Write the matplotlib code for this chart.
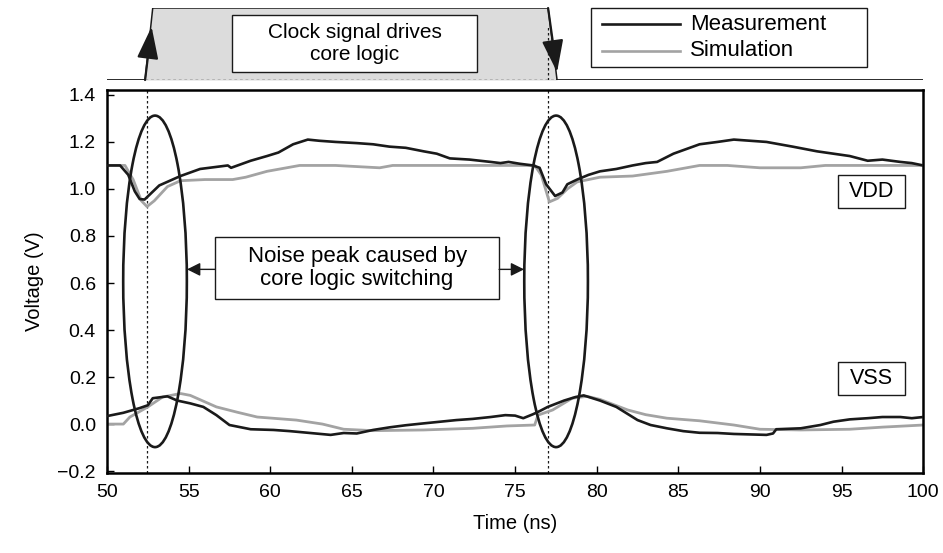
import matplotlib
matplotlib.use("Agg")
import matplotlib.pyplot as plt
from matplotlib.patches import Ellipse, Rectangle
from matplotlib.lines import Line2D

plt.rcParams['font.family'] = ['Liberation Sans', 'DejaVu Sans']

# VDD rail, measurement (black) and simulation (gray)
vdd_meas_t = [50, 50.8, 51.3, 51.7, 52.0, 52.3, 52.6, 53.2, 54.5, 55.7, 57.4, 57.6, 58.8, 59.8,
              60.5, 61.4, 62.3, 63.0, 64.0, 65.3, 66.3, 67.3, 68.3, 69.4, 70.2, 71.0, 72.2,
              73.5, 74.1, 74.6, 75.3, 76.1, 76.5, 76.9, 77.45, 77.9, 78.2, 78.8, 79.5, 80.2,
              81.2, 82.2, 83.0, 83.7, 84.7, 85.5, 86.3, 87.4, 88.4, 89.4, 90.4, 91.2, 92.0,
              93.5, 94.5, 95.5, 96.6, 97.5, 98.6, 99.3, 100]
vdd_meas_v = [1.10, 1.10, 1.06, 0.99, 0.957, 0.955, 0.975, 1.015, 1.055, 1.085, 1.10, 1.09, 1.12,
              1.14, 1.155, 1.19, 1.21, 1.205, 1.20, 1.195, 1.19, 1.18, 1.175, 1.16, 1.15, 1.13,
              1.125, 1.115, 1.11, 1.115, 1.107, 1.10, 1.09, 1.02, 0.97, 0.985, 1.02, 1.04,
              1.06, 1.075, 1.085, 1.10, 1.11, 1.115, 1.15, 1.17, 1.19, 1.20, 1.21, 1.205,
              1.20, 1.19, 1.18, 1.16, 1.15, 1.14, 1.12, 1.125, 1.115, 1.11, 1.10]
vdd_sim_t = [50, 51.1, 51.6, 52.1, 52.45, 52.9, 53.7, 54.5, 56.0, 57.7, 58.5, 59.8, 61.0, 61.8,
             62.5, 64.0, 66.7, 67.5, 70.0, 73.0, 76.2, 76.6, 77.1, 77.6, 78.2, 78.8, 80.2,
             82.2, 84.3, 85.5, 86.3, 88.0, 90.0, 92.5, 94.0, 96.0, 100]
vdd_sim_v = [1.10, 1.10, 1.04, 0.95, 0.925, 0.95, 1.01, 1.035, 1.04, 1.04, 1.05, 1.075, 1.09,
             1.10, 1.10, 1.10, 1.09, 1.10, 1.10, 1.10, 1.10, 1.06, 0.945, 0.96, 1.00, 1.03,
             1.05, 1.055, 1.075, 1.09, 1.10, 1.10, 1.09, 1.09, 1.10, 1.10, 1.10]

# VSS rail
vss_meas_t = [50, 51.0, 52.0, 52.5, 52.8, 53.7, 54.3, 55.1, 55.9, 56.7, 57.5, 58.8, 60.2, 61.2,
              62.3, 63.7, 64.5, 65.3, 66.3, 67.3, 68.3, 69.4, 70.4, 71.4, 72.4, 73.5, 74.4,
              75.0, 75.5, 76.1, 76.5, 77.0, 78.0, 78.7, 79.2, 80.2, 81.2, 82.5, 83.3, 84.3,
              85.3, 86.3, 87.4, 88.4, 89.4, 90.4, 90.8, 91.0, 92.5, 93.7, 94.5, 95.5, 96.6,
              97.5, 98.6, 99.3, 100]
vss_meas_v = [0.034, 0.048, 0.068, 0.08, 0.11, 0.118, 0.10, 0.088, 0.073, 0.038, -0.004, -0.022,
              -0.025, -0.03, -0.037, -0.046, -0.038, -0.04, -0.025, -0.014, -0.005, 0.003,
              0.01, 0.017, 0.022, 0.03, 0.038, 0.036, 0.025, 0.042, 0.055, 0.073, 0.10, 0.115,
              0.122, 0.10, 0.073, 0.017, -0.004, -0.018, -0.03, -0.037, -0.038, -0.042,
              -0.044, -0.046, -0.04, -0.022, -0.018, -0.004, 0.01, 0.02, 0.025, 0.03, 0.03,
              0.025, 0.03]
vss_sim_t = [50, 51.0, 51.4, 52.5, 53.4, 54.5, 55.1, 56.7, 58.0, 59.2, 61.6, 63.2, 64.5, 66.3,
             69.4, 72.4, 74.5, 76.2, 76.4, 77.3, 78.5, 79.4, 80.2, 81.9, 83.0, 84.3, 86.3,
             88.4, 90.0, 92.5, 95.5, 97.5, 100]
vss_sim_v = [0.0, 0.0, 0.03, 0.073, 0.115, 0.13, 0.122, 0.073, 0.05, 0.03, 0.017, 0.0, -0.022,
             -0.028, -0.025, -0.018, -0.008, -0.004, 0.038, 0.06, 0.11, 0.118, 0.105, 0.06,
             0.04, 0.025, 0.014, -0.004, -0.022, -0.025, -0.022, -0.013, -0.004]

# clock pulse (0 = low, 1 = high)
clock_t = [50, 52.33, 52.8, 77.02, 77.57, 100]
clock_v = [0, 0, 1, 1, 0, 0]
edges = [52.45, 77.0]
ellipse_x = [52.94, 77.51]

x_ticks = [50, 55, 60, 65, 70, 75, 80, 85, 90, 95, 100]
y_ticks = [-0.2, 0.0, 0.2, 0.4, 0.6, 0.8, 1.0, 1.2, 1.4]
y_labels = ['\u22120.2', '0.0', '0.2', '0.4', '0.6', '0.8', '1.0', '1.2', '1.4']

BLACK = '#1a1a1a'
GRAY = '#a3a3a3'
FS = 14
W, H = 943, 553


def fpx(x, y):
    # pixel position (from top-left) -> figure fraction
    return x / W, 1 - y / H


fig = plt.figure(figsize=(W / 100, H / 100), dpi=100)
ax = fig.add_axes([0.1135, 0.1447, 0.8655, 0.6926])

ax.plot(vdd_sim_t, vdd_sim_v, color=GRAY, lw=2.0, zorder=2)
ax.plot(vss_sim_t, vss_sim_v, color=GRAY, lw=2.0, zorder=2)
ax.plot(vdd_meas_t, vdd_meas_v, color=BLACK, lw=1.9, zorder=3)
ax.plot(vss_meas_t, vss_meas_v, color=BLACK, lw=1.9, zorder=3)

for e in edges:
    ax.axvline(e, color=BLACK, lw=0.9, ls=(0, (2, 2)), zorder=1)

for ex in ellipse_x:
    ax.add_patch(Ellipse((ex, 0.607), 3.9, 1.41, fill=False, ec=BLACK, lw=1.9, zorder=4))

ax.set_xlim(50, 100)
ax.set_ylim(-0.208, 1.421)
ax.set_xticks(x_ticks)
ax.set_yticks(y_ticks)
ax.set_yticklabels(y_labels)
ax.tick_params(direction='in', length=5, width=1, labelsize=FS, pad=8)
for s in ax.spines.values():
    s.set_linewidth(1.8)
ax.set_xlabel('Time (ns)', fontsize=FS + 0.5, labelpad=9)
ax.set_ylabel('Voltage (V)', fontsize=FS + 0.5, labelpad=10)

# noise annotation box with arrows to both ellipses
ax.add_patch(Rectangle((56.62, 0.532), 74.02 - 56.62, 0.796 - 0.532, fc='white', ec=BLACK,
                       lw=1.0, zorder=5))
ax.text(65.32, 0.664, 'Noise peak caused by\ncore logic switching', ha='center', va='center',
        fontsize=16, linespacing=1.15, zorder=6)
arrow = dict(arrowstyle='-|>', color=BLACK, lw=1.0, mutation_scale=20, shrinkA=0, shrinkB=0)
ax.annotate('', xy=(54.9, 0.658), xytext=(56.62, 0.658), arrowprops=arrow, zorder=5)
ax.annotate('', xy=(75.55, 0.658), xytext=(74.02, 0.658), arrowprops=arrow, zorder=5)

for label, y0, y1 in [('VDD', 0.919, 1.06), ('VSS', 0.123, 0.264)]:
    ax.add_patch(Rectangle((94.79, y0), 98.9 - 94.79, y1 - y0, fc='white', ec=BLACK, lw=1.0,
                           zorder=5))
    ax.text(96.85, (y0 + y1) / 2, label, ha='center', va='center', fontsize=15.5, zorder=6)

# clock panel above the plot
cax = fig.add_axes([0.1135, 0.8553, 0.8655, 0.1302], sharex=ax)
cax.set_ylim(0, 1)
cax.axis('off')
cax.fill_between(clock_t, clock_v, 0, color='#dcdcdc', lw=0)
cax.plot(clock_t[1:5], clock_v[1:5], color=BLACK, lw=1.1)
cax.plot(clock_t[:2], clock_v[:2], color=BLACK, lw=1.3)
cax.plot(clock_t[4:], clock_v[4:], color=BLACK, lw=1.3)
cax.plot([clock_t[1], clock_t[4]], [0, 0], color=BLACK, lw=1.0, ls=(0, (2, 2)))
cax.plot([edges[1], edges[1]], [0, 0.76], color=BLACK, lw=0.9, ls=(0, (2, 2)))
head = dict(arrowstyle='-|>,head_length=0.9,head_width=0.3', color=BLACK, lw=1.6,
            mutation_scale=22, shrinkA=0, shrinkB=0)
cax.annotate('', xy=(52.73, 0.74), xytext=(52.33, 0.0), arrowprops=head)
cax.annotate('', xy=(77.57, 0.11), xytext=(77.02, 1.0), arrowprops=head)
cax.add_patch(Rectangle((57.66, 0.111), 72.67 - 57.66, 0.903 - 0.111, fc='white', ec=BLACK,
                        lw=1.0))
cax.text(65.17, 0.507, 'Clock signal drives\ncore logic', ha='center', va='center',
         fontsize=15, linespacing=1.15)

# legend, drawn in figure pixels
fig.patches.append(Rectangle(fpx(591, 67), 276 / W, 59 / H, transform=fig.transFigure,
                             fc='white', ec=BLACK, lw=1.0))
for label, color, yy in [('Measurement', BLACK, 24), ('Simulation', GRAY, 51)]:
    x0, y0 = fpx(602, yy)
    x1, _ = fpx(680, yy)
    fig.lines.append(Line2D([x0, x1], [y0, y0], transform=fig.transFigure, color=color,
                            lw=1.9))
    fig.text(fpx(690, yy)[0], y0, label, ha='left', va='center', fontsize=16)

fig.savefig('out.png', dpi=100)
